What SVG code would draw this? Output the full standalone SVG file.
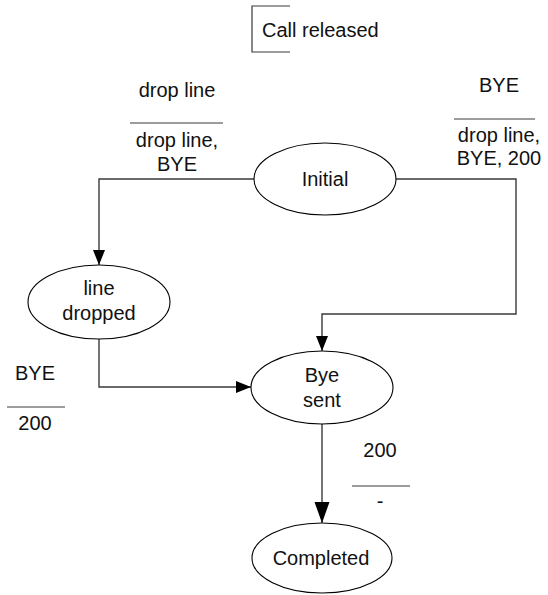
<svg xmlns="http://www.w3.org/2000/svg" width="548" height="595" viewBox="0 0 548 595">
  <style>
    .node ellipse { fill: #ffffff; stroke: #000000; stroke-width: 1.1; }
    .edge { fill: none; stroke: #3a3a3a; stroke-width: 1.4; }
    .sep { stroke: #3a3a3a; stroke-width: 1.2; }
    text { font-family: "Liberation Sans", Arial, Helvetica, sans-serif; font-size: 20px; fill: #111111; text-anchor: middle; }
  </style>
  <defs>
    <marker id="arr" markerUnits="userSpaceOnUse" markerWidth="16" markerHeight="13" refX="15" refY="6" orient="auto">
      <path d="M0,0 L15,6 L0,12 z" fill="#000000"/>
    </marker>
    <marker id="arrBig" markerUnits="userSpaceOnUse" markerWidth="22" markerHeight="16" refX="21" refY="7.5" orient="auto">
      <path d="M0,0 L21,7.5 L0,15 z" fill="#000000"/>
    </marker>
  </defs>
  <rect width="548" height="595" fill="#ffffff"/>

  <g id="title">
    <path d="M290,6 L252,6 L252,52 L290,52" fill="none" stroke="#3a3a3a" stroke-width="1.2"/>
    <text x="262" y="37" style="text-anchor:start">Call released</text>
  </g>

  <g id="connectors">
    <path class="edge" d="M254,179 L99,179 L99,265" marker-end="url(#arr)"/>
    <path class="edge" d="M396,179 L516,179 L516,314 L322,314 L322,351" marker-end="url(#arr)"/>
    <path class="edge" d="M99,339 L99,387 L251,387" marker-end="url(#arr)"/>
    <path class="edge" d="M322,424 L322,523" marker-end="url(#arrBig)"/>
  </g>

  <g id="labels">
    <g id="label-initial-dropped">
      <text x="177" y="97">drop line</text>
      <line class="sep" x1="130" y1="123" x2="223" y2="123"/>
      <text x="177" y="147">drop line,</text>
      <text x="177" y="171">BYE</text>
    </g>
    <g id="label-initial-byesent">
      <text x="499" y="92">BYE</text>
      <line class="sep" x1="454" y1="119" x2="535" y2="119"/>
      <text x="499" y="142">drop line,</text>
      <text x="499" y="165">BYE, 200</text>
    </g>
    <g id="label-dropped-byesent">
      <text x="35" y="380">BYE</text>
      <line class="sep" x1="7" y1="407" x2="65" y2="407"/>
      <text x="35" y="430">200</text>
    </g>
    <g id="label-byesent-completed">
      <text x="380" y="457">200</text>
      <line class="sep" x1="352" y1="486" x2="410" y2="486"/>
      <text x="380" y="508">-</text>
    </g>
  </g>

  <g id="initial" class="node">
    <ellipse cx="325" cy="179" rx="71" ry="36"/>
    <text x="325" y="186">Initial</text>
  </g>

  <g id="line-dropped" class="node">
    <ellipse cx="99" cy="302" rx="71" ry="37"/>
    <text x="99" y="295">line</text>
    <text x="99" y="320">dropped</text>
  </g>

  <g id="bye-sent" class="node">
    <ellipse cx="322" cy="387.5" rx="71" ry="36.5"/>
    <text x="322" y="382">Bye</text>
    <text x="322" y="407">sent</text>
  </g>

  <g id="completed" class="node">
    <ellipse cx="322" cy="558" rx="70" ry="35"/>
    <text x="321" y="565">Completed</text>
  </g>
</svg>
